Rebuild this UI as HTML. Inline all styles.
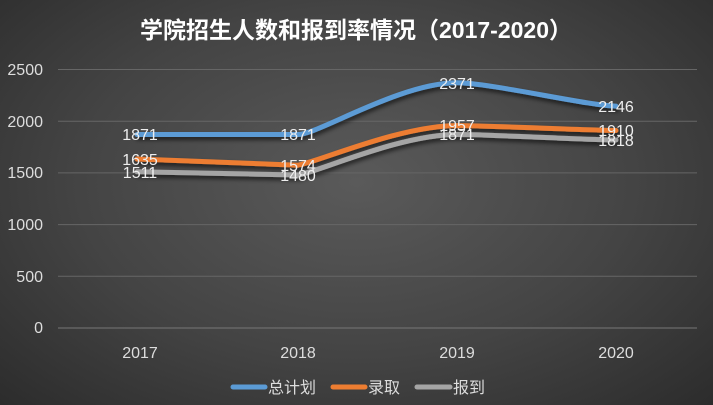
<!DOCTYPE html>
<html><head><meta charset="utf-8"><style>
body{margin:0;width:713px;height:405px;overflow:hidden;background:radial-gradient(ellipse at 50% 45%,#5a5a5a 0%,#444 55%,#2c2c2c 100%);font-family:"Liberation Sans","Noto Sans CJK SC",sans-serif;}
</style></head><body>
<svg width="713" height="405" xmlns="http://www.w3.org/2000/svg" style="position:absolute;left:0;top:0">
<defs><filter id="sh" x="-10%" y="-50%" width="120%" height="200%"><feDropShadow dx="1" dy="3" stdDeviation="2" flood-color="#000" flood-opacity="0.6"/></filter></defs>
<text x="356" y="38" text-anchor="middle" fill="#fff" font-size="23" font-weight="bold" font-family="Liberation Sans,Noto Sans CJK SC,sans-serif">学院招生人数和报到率情况（2017-2020）</text>
<g stroke="#666" stroke-width="1">
<line x1="58" x2="697" y1="69.5" y2="69.5"/><line x1="58" x2="697" y1="121.2" y2="121.2"/><line x1="58" x2="697" y1="172.9" y2="172.9"/><line x1="58" x2="697" y1="224.6" y2="224.6"/><line x1="58" x2="697" y1="276.3" y2="276.3"/><line x1="58" x2="697" y1="328" y2="328" stroke="#777"/>
</g>
<g fill="#ddd" font-size="16" text-anchor="end">
<text x="43" y="75">2500</text><text x="43" y="127">2000</text><text x="43" y="178">1500</text><text x="43" y="230">1000</text><text x="43" y="282">500</text><text x="43" y="333">0</text>
</g>
<g fill="#ddd" font-size="16" text-anchor="middle">
<text x="140" y="358">2017</text><text x="298" y="358">2018</text><text x="457" y="358">2019</text><text x="616" y="358">2020</text>
</g>
<g fill="none" stroke-width="5" stroke-linecap="round" filter="url(#sh)">
<path d="M137 134.5 L298 134.5 C318 134.5 400 82.8 457 82.8 C490 82.8 590 106.1 616 106.1" stroke="#5b9bd5"/>
<path d="M137 159 L298 165.2 C318 162 400 125.6 457 125.6 C490 125.6 590 130.5 616 130.5" stroke="#ed7d31"/>
<path d="M137 171.8 L298 175 C318 172 400 134.5 457 134.5 C490 134.5 590 140 616 140" stroke="#a5a5a5"/>
</g>
<g fill="#eee" font-size="16" text-anchor="middle">
<text x="140" y="140">1871</text><text x="298" y="140">1871</text><text x="457" y="89">2371</text><text x="616" y="112">2146</text>
<text x="140" y="165">1635</text><text x="298" y="171">1574</text><text x="457" y="131">1957</text><text x="616" y="136">1910</text>
<text x="140" y="178">1511</text><text x="298" y="181">1480</text><text x="457" y="140">1871</text><text x="616" y="146">1818</text>
</g>
<g stroke-width="5" stroke-linecap="round">
<line x1="233" x2="265" y1="387" y2="387" stroke="#5b9bd5"/>
<line x1="333" x2="365" y1="387" y2="387" stroke="#ed7d31"/>
<line x1="417" x2="450" y1="387" y2="387" stroke="#a5a5a5"/>
</g>
<g fill="#ddd" font-size="16">
<text x="268" y="393">总计划</text><text x="368" y="393">录取</text><text x="453" y="393">报到</text>
</g>
</svg>
</body></html>
